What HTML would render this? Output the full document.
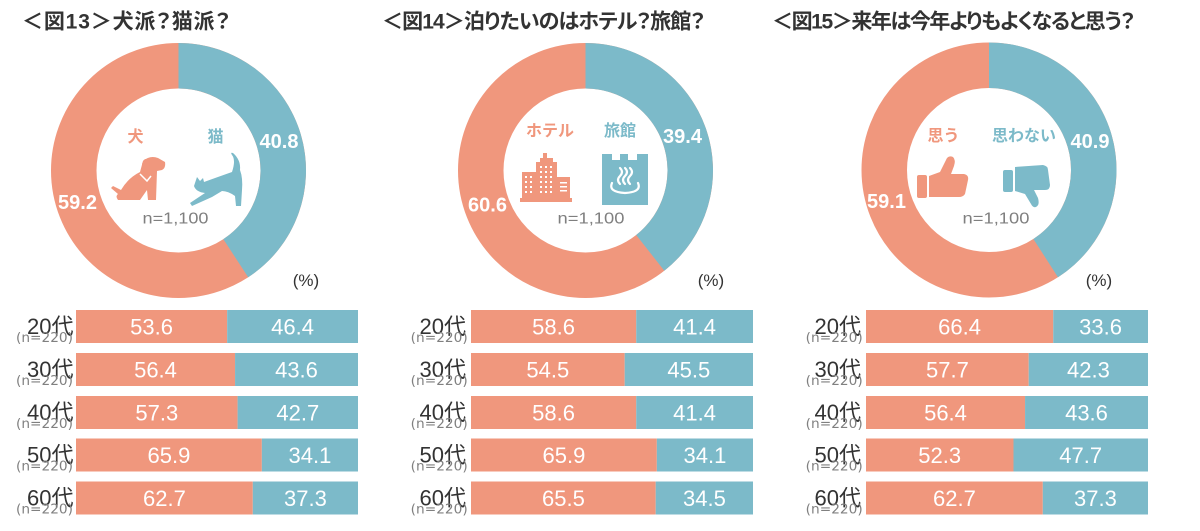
<!DOCTYPE html>
<html><head><meta charset="utf-8"><style>
html,body{margin:0;padding:0;background:#fff;}
svg{display:block;}
.t{font-family:"Liberation Sans","Noto Sans CJK JP",sans-serif;font-weight:bold;font-size:21px;fill:#333;font-feature-settings:"palt";}
.lab{font-family:"Liberation Sans","Noto Sans CJK JP",sans-serif;font-weight:bold;font-size:16px;text-anchor:middle;}
.pv{font-family:"Liberation Sans",sans-serif;font-weight:bold;font-size:20px;fill:#fff;text-anchor:middle;}
.n{font-family:"Liberation Sans",sans-serif;font-size:16px;fill:#7f7f7f;text-anchor:middle;}
.pc{font-family:"Liberation Sans",sans-serif;font-size:17px;fill:#333;text-anchor:middle;}
.bv{font-family:"Liberation Sans",sans-serif;font-size:22px;fill:#fff;text-anchor:middle;}
.age{font-family:"Liberation Sans","Noto Sans CJK JP",sans-serif;font-size:22px;fill:#333;text-anchor:end;}
.nn{font-family:"DejaVu Sans",sans-serif;font-size:13px;fill:#808080;text-anchor:end;}
</style></head><body>
<svg width="1200" height="531" viewBox="0 0 1200 531" xmlns="http://www.w3.org/2000/svg">
<!-- Titles -->
<text class="t" x="22" y="28.5" textLength="208" lengthAdjust="spacing">＜図13＞犬派？猫派？</text>
<text class="t" x="382" y="28.5" textLength="323" lengthAdjust="spacing">＜図14＞泊りたいのはホテル？旅館？</text>
<text class="t" x="772" y="28.5" textLength="363" lengthAdjust="spacing">＜図15＞来年は今年よりもよくなると思う？</text>

<!-- Donut 1 -->
<circle cx="178.5" cy="170.5" r="104.75" fill="none" stroke="#F0977D" stroke-width="45.5"/>
<path d="M178.5,43 A127.5,127.5 0 0 1 248.19,277.27 L223.32,239.17 A82,82 0 0 0 178.5,88.5 Z" fill="#7CBAC9"/>
<text class="pv" x="279" y="148">40.8</text>
<text class="pv" x="77.5" y="209">59.2</text>
<text class="lab" x="135.5" y="142" fill="#F0977D">犬</text>
<text class="lab" x="215.5" y="142" fill="#7CBAC9">猫</text>
<!-- dog -->
<path d="M143,161 Q150,155 158,158 L165,162 Q166,168 162,170 L157,171 L156,200 L148,200 L147,190 L140,200 L118,200 Q115,196 118,194 L111,188 L113,186 L121,190 Q128,178 140,172 Z" fill="#F0977D"/>
<ellipse cx="146" cy="166" rx="4" ry="7" fill="#F0977D"/>
<path d="M140,174 L147,181 L151,176" fill="none" stroke="#fff" stroke-width="1.5"/>
<!-- cat -->
<path d="M232,172 Q236,160 232,155 Q230,152 233,153 Q241,160 240,170 Q243,178 242,190 L241,206 L236,206 L235,196 Q228,191 222,191 L212,197 L192,206 L190,203 L205,193 Q196,192 194,186 L197,177 L200,181 L203,178 L204,182 Q215,178 232,172 Z" fill="#7CBAC9"/>
<text class="n" x="175.5" y="223.5" textLength="66" lengthAdjust="spacingAndGlyphs">n=1,100</text>
<text class="pc" x="306" y="286">(%)</text>

<!-- Donut 2 -->
<circle cx="585.5" cy="170.5" r="104.75" fill="none" stroke="#F0977D" stroke-width="45.5"/>
<path d="M585.5,43 A127.5,127.5 0 0 1 664.30,270.74 L636.18,234.97 A82,82 0 0 0 585.5,88.5 Z" fill="#7CBAC9"/>
<text class="pv" x="682.5" y="143">39.4</text>
<text class="pv" x="487.5" y="211.5">60.6</text>
<text class="lab" x="550" y="136" fill="#F0977D">ホテル</text>
<text class="lab" x="620" y="136" fill="#7CBAC9">旅館</text>
<!-- hotel -->
<g fill="#F0977D">
<rect x="543" y="153" width="4" height="6"/>
<rect x="540" y="158" width="13" height="5"/>
<rect x="536" y="162" width="21" height="38"/>
<rect x="522" y="172" width="15" height="28"/>
<rect x="557" y="177" width="13" height="23"/>
<rect x="520" y="198" width="52" height="4"/>
</g>
<g fill="#fff">
<rect x="525" y="176" width="2" height="2"/><rect x="530" y="176" width="2" height="2"/>
<rect x="525" y="181" width="2" height="2"/><rect x="530" y="181" width="2" height="2"/>
<rect x="525" y="186" width="2" height="2"/><rect x="530" y="186" width="2" height="2"/>
<rect x="525" y="191" width="2" height="2"/><rect x="530" y="191" width="2" height="2"/>
<rect x="540" y="166" width="2" height="2"/><rect x="545" y="166" width="2" height="2"/><rect x="550" y="166" width="2" height="2"/>
<rect x="540" y="171" width="2" height="2"/><rect x="545" y="171" width="2" height="2"/><rect x="550" y="171" width="2" height="2"/>
<rect x="540" y="176" width="2" height="2"/><rect x="545" y="176" width="2" height="2"/><rect x="550" y="176" width="2" height="2"/>
<rect x="540" y="181" width="2" height="2"/><rect x="545" y="181" width="2" height="2"/><rect x="550" y="181" width="2" height="2"/>
<rect x="540" y="186" width="2" height="2"/><rect x="545" y="186" width="2" height="2"/><rect x="550" y="186" width="2" height="2"/>
<rect x="540" y="191" width="2" height="2"/><rect x="545" y="191" width="2" height="2"/><rect x="550" y="191" width="2" height="2"/>
<rect x="560" y="182" width="7" height="1.5"/><rect x="560" y="186" width="7" height="1.5"/><rect x="560" y="190" width="7" height="1.5"/>
</g>
<!-- ryokan -->
<path d="M602,154 L612,154 L612,160 L620,160 L620,154 L628,154 L628,160 L637,160 L637,154 L648,154 L648,205 L602,205 Z" fill="#7CBAC9"/>
<g fill="none" stroke="#fff" stroke-width="2.2" stroke-linecap="round">
<path d="M612,183 Q608,192 625,193 Q642,192 638,183"/>
<path d="M620,184 Q616,180 620,176 Q624,172 620,168"/>
<path d="M625,184 Q621,180 625,176 Q629,172 625,168"/>
<path d="M630,184 Q626,180 630,176 Q634,172 630,168"/>
</g>
<text class="n" x="591" y="223.5" textLength="67" lengthAdjust="spacingAndGlyphs">n=1,100</text>
<text class="pc" x="711" y="286">(%)</text>

<!-- Donut 3 -->
<circle cx="989" cy="170" r="104.75" fill="none" stroke="#F0977D" stroke-width="45.5"/>
<path d="M989,42.5 A127.5,127.5 0 0 1 1057.99,277.23 L1033.37,238.96 A82,82 0 0 0 989,88 Z" fill="#7CBAC9"/>
<text class="pv" x="1090" y="148">40.9</text>
<text class="pv" x="886.5" y="208">59.1</text>
<text class="lab" x="943.5" y="141" fill="#F0977D">思う</text>
<text class="lab" x="1024" y="141" fill="#7CBAC9">思わない</text>
<!-- thumbs up -->
<rect x="917" y="175" width="10" height="23" rx="2" fill="#F0977D"/>
<path d="M929,176 L940,172 L946,160 Q948,155 953,157 Q956,160 954,166 L951,174 L964,174 Q969,175 968,180 L965,194 Q963,197 959,197 L929,197 Z" fill="#F0977D"/>
<!-- thumbs down -->
<rect x="1003" y="170" width="10" height="22" rx="2" fill="#7CBAC9"/>
<path d="M1015,167 L1043,165 Q1048,166 1048,170 L1050,185 Q1050,190 1045,190 L1034,190 L1038,198 Q1040,205 1036,207 Q1033,208 1031,204 L1025,194 L1015,191 Z" fill="#7CBAC9"/>
<text class="n" x="996" y="223.5" textLength="67" lengthAdjust="spacingAndGlyphs">n=1,100</text>
<text class="pc" x="1099" y="286">(%)</text>

<!-- Bars chart 1 -->
<g>
<rect x="76" y="310" width="151.15" height="33" fill="#F0977D"/><rect x="227.15" y="310" width="130.85" height="33" fill="#7CBAC9"/>
<rect x="76" y="353" width="159.05" height="33" fill="#F0977D"/><rect x="235.05" y="353" width="122.95" height="33" fill="#7CBAC9"/>
<rect x="76" y="396" width="161.59" height="33" fill="#F0977D"/><rect x="237.59" y="396" width="120.41" height="33" fill="#7CBAC9"/>
<rect x="76" y="438.5" width="185.84" height="33" fill="#F0977D"/><rect x="261.84" y="438.5" width="96.16" height="33" fill="#7CBAC9"/>
<rect x="76" y="481.5" width="176.81" height="33" fill="#F0977D"/><rect x="252.81" y="481.5" width="105.19" height="33" fill="#7CBAC9"/>
<text class="bv" x="151.6" y="334.5">53.6</text><text class="bv" x="292.6" y="334.5">46.4</text>
<text class="bv" x="155.5" y="377.5">56.4</text><text class="bv" x="296.5" y="377.5">43.6</text>
<text class="bv" x="156.8" y="420.5">57.3</text><text class="bv" x="297.8" y="420.5">42.7</text>
<text class="bv" x="168.9" y="463">65.9</text><text class="bv" x="309.9" y="463">34.1</text>
<text class="bv" x="164.4" y="506">62.7</text><text class="bv" x="305.4" y="506">37.3</text>
<text class="age" x="73.5" y="334">20代</text><text class="nn" x="73" y="342" textLength="57" lengthAdjust="spacingAndGlyphs">(n=220)</text>
<text class="age" x="73.5" y="377">30代</text><text class="nn" x="73" y="385" textLength="57" lengthAdjust="spacingAndGlyphs">(n=220)</text>
<text class="age" x="73.5" y="420">40代</text><text class="nn" x="73" y="428" textLength="57" lengthAdjust="spacingAndGlyphs">(n=220)</text>
<text class="age" x="73.5" y="462.5">50代</text><text class="nn" x="73" y="470.5" textLength="57" lengthAdjust="spacingAndGlyphs">(n=220)</text>
<text class="age" x="73.5" y="505.5">60代</text><text class="nn" x="73" y="513.5" textLength="57" lengthAdjust="spacingAndGlyphs">(n=220)</text>
</g>

<!-- Bars chart 2 -->
<g>
<rect x="471" y="310" width="165.25" height="33" fill="#F0977D"/><rect x="636.25" y="310" width="116.75" height="33" fill="#7CBAC9"/>
<rect x="471" y="353" width="153.69" height="33" fill="#F0977D"/><rect x="624.69" y="353" width="128.31" height="33" fill="#7CBAC9"/>
<rect x="471" y="396" width="165.25" height="33" fill="#F0977D"/><rect x="636.25" y="396" width="116.75" height="33" fill="#7CBAC9"/>
<rect x="471" y="438.5" width="185.84" height="33" fill="#F0977D"/><rect x="656.84" y="438.5" width="96.16" height="33" fill="#7CBAC9"/>
<rect x="471" y="481.5" width="184.71" height="33" fill="#F0977D"/><rect x="655.71" y="481.5" width="97.29" height="33" fill="#7CBAC9"/>
<text class="bv" x="553.6" y="334.5">58.6</text><text class="bv" x="694.6" y="334.5">41.4</text>
<text class="bv" x="547.8" y="377.5">54.5</text><text class="bv" x="688.8" y="377.5">45.5</text>
<text class="bv" x="553.6" y="420.5">58.6</text><text class="bv" x="694.6" y="420.5">41.4</text>
<text class="bv" x="563.9" y="463">65.9</text><text class="bv" x="704.9" y="463">34.1</text>
<text class="bv" x="563.4" y="506">65.5</text><text class="bv" x="704.4" y="506">34.5</text>
<text class="age" x="466" y="334">20代</text><text class="nn" x="467.7" y="342" textLength="57" lengthAdjust="spacingAndGlyphs">(n=220)</text>
<text class="age" x="466" y="377">30代</text><text class="nn" x="467.7" y="385" textLength="57" lengthAdjust="spacingAndGlyphs">(n=220)</text>
<text class="age" x="466" y="420">40代</text><text class="nn" x="467.7" y="428" textLength="57" lengthAdjust="spacingAndGlyphs">(n=220)</text>
<text class="age" x="466" y="462.5">50代</text><text class="nn" x="467.7" y="470.5" textLength="57" lengthAdjust="spacingAndGlyphs">(n=220)</text>
<text class="age" x="466" y="505.5">60代</text><text class="nn" x="467.7" y="513.5" textLength="57" lengthAdjust="spacingAndGlyphs">(n=220)</text>
</g>

<!-- Bars chart 3 -->
<g>
<rect x="866" y="310" width="187.25" height="33" fill="#F0977D"/><rect x="1053.25" y="310" width="94.75" height="33" fill="#7CBAC9"/>
<rect x="866" y="353" width="162.71" height="33" fill="#F0977D"/><rect x="1028.71" y="353" width="119.29" height="33" fill="#7CBAC9"/>
<rect x="866" y="396" width="159.05" height="33" fill="#F0977D"/><rect x="1025.05" y="396" width="122.95" height="33" fill="#7CBAC9"/>
<rect x="866" y="438.5" width="147.49" height="33" fill="#F0977D"/><rect x="1013.49" y="438.5" width="134.51" height="33" fill="#7CBAC9"/>
<rect x="866" y="481.5" width="176.81" height="33" fill="#F0977D"/><rect x="1042.81" y="481.5" width="105.19" height="33" fill="#7CBAC9"/>
<text class="bv" x="959.6" y="334.5">66.4</text><text class="bv" x="1100.6" y="334.5">33.6</text>
<text class="bv" x="947.4" y="377.5">57.7</text><text class="bv" x="1088.4" y="377.5">42.3</text>
<text class="bv" x="945.5" y="420.5">56.4</text><text class="bv" x="1086.5" y="420.5">43.6</text>
<text class="bv" x="939.7" y="463">52.3</text><text class="bv" x="1080.7" y="463">47.7</text>
<text class="bv" x="954.4" y="506">62.7</text><text class="bv" x="1095.4" y="506">37.3</text>
<text class="age" x="861" y="334">20代</text><text class="nn" x="862.7" y="342" textLength="57" lengthAdjust="spacingAndGlyphs">(n=220)</text>
<text class="age" x="861" y="377">30代</text><text class="nn" x="862.7" y="385" textLength="57" lengthAdjust="spacingAndGlyphs">(n=220)</text>
<text class="age" x="861" y="420">40代</text><text class="nn" x="862.7" y="428" textLength="57" lengthAdjust="spacingAndGlyphs">(n=220)</text>
<text class="age" x="861" y="462.5">50代</text><text class="nn" x="862.7" y="470.5" textLength="57" lengthAdjust="spacingAndGlyphs">(n=220)</text>
<text class="age" x="861" y="505.5">60代</text><text class="nn" x="862.7" y="513.5" textLength="57" lengthAdjust="spacingAndGlyphs">(n=220)</text>
</g>
</svg>
</body></html>
